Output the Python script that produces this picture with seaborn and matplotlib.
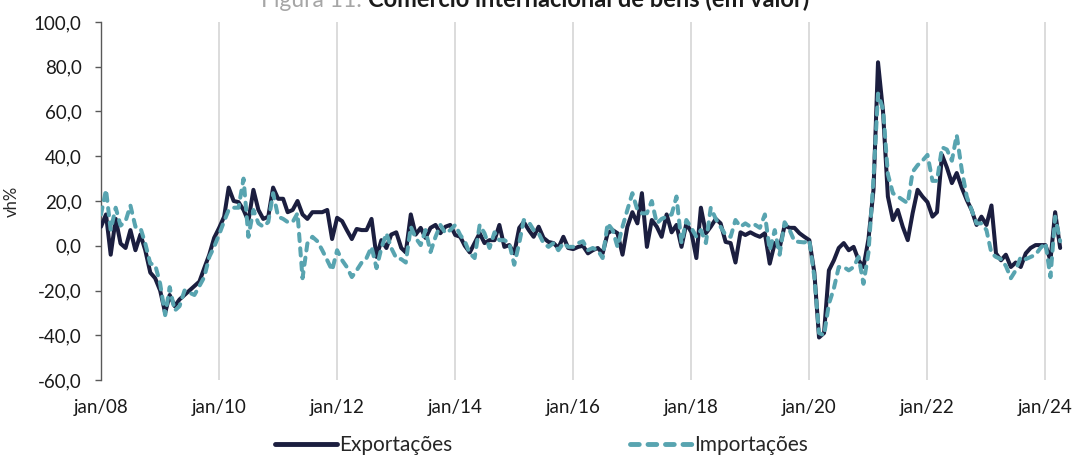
import numpy as np
import pandas as pd
import seaborn as sns
import matplotlib
matplotlib.use('Agg')
import matplotlib.pyplot as plt

# variação homóloga (%) mensal, jan/2008 - abr/2024
exportacoes = (
    [8.5, 14, -4, 12, 1, -1, 7, -2, 5, -2, -12, -14.5]          # 2008
    + [-20, -30, -22, -27, -24, -22, -20, -18, -16, -10, -4, 3.5]  # 2009
    + [8, 13, 26, 20, 19.5, 16, 11, 25, 16, 12, 13, 26]          # 2010
    + [21, 21, 15, 16, 20, 14, 12, 15, 15, 15, 16, 3]            # 2011
    + [12.5, 11, 7, 3, 7.5, 7, 7, 12, -5, 2.5, -1, 5]            # 2012
    + [6, -1, -3, 14, 5, 8, 3.5, 8, 9.3, 5.6, 8.5, 9.3]          # 2013
    + [4.8, 4, 0, -3, 1.2, 5.6, 1.2, 2.5, 2.5, 9.3, -0.5, 0.3]   # 2014
    + [-3.4, 8, 10.6, 7, 4, 8.5, 3.5, 1.7, 1.2, -1, 4, -1]       # 2015
    + [-1.5, -0.5, 0, -3.4, -2, -1, -3.4, 5.6, 7, 5.6, -4, 8.5]  # 2016
    + [15, 10, 23.5, -0.5, 11.5, 8.5, 4, 14, 6, 9.3, -0.5, 10]   # 2017
    + [6, -5.5, 17, 5.6, 8.5, 12, 10, 1.7, 1.2, -7.5, 6, 4.8]    # 2018
    + [6, 4.8, 4, 5.6, -8, 1.2, -1, 9, 8, 8, 5.6, 4]             # 2019
    + [2.5, -12, -41, -39, -11, -6.5, -1, 1.2, -2, -0.5, -6.5, -9.5]  # 2020
    + [3, 25, 82, 60, 22, 11.5, 16, 8.5, 2.5, 14.5, 25, 22]      # 2021
    + [19.5, 13, 15, 40.6, 35, 28, 32.5, 26, 20.5, 16, 9.3, 13]  # 2022
    + [9.3, 18, -3.4, -6.5, -4, -9.5, -7.5, -9.5, -3.4, -1, 0.3, 0.3]  # 2023
    + [0.3, -6.5, 15, -1]                                        # 2024
)
importacoes = (
    [14, 25, 7, 17, 9, 11, 18, 8.5, 8, 1, -8, -8.5]
    + [-17, -31, -18.5, -29, -27, -20, -21, -22, -18, -14, -5, -0.5]
    + [5, 11, 16, 17, 17, 30, 4, 16, 10, 8.5, 10.6, 23.5]
    + [13, 12, 10.6, 10.6, 14.5, -14.5, 1, 4, 2, -2, -6.5, -11]
    + [-2, -6.5, -9.5, -14, -11, -7.5, -5.5, -0.5, -10, -1, 5.6, -1]
    + [-5.5, -6, -7.5, 8.5, 3.5, 0.3, 7, -2.8, 4, 9.3, 5.6, 7]
    + [9.3, 4.8, 2, -3.4, -5.5, 9.3, 5.6, -1, 6, 2.5, 2.5, 1.2]
    + [-8.5, 1.2, 11.5, 10.6, 7, 5.6, 1.2, -0.5, 1.2, -2, 1.2, -0.5]
    + [-0.5, 1.2, 2, -2, -1, -2, -5.5, 10, 7, -0.5, 8.5, 16]
    + [23.5, 16, 14.5, 14.5, 20, 10, 12, 13, 14, 22, 1.2, 11.5]
    + [8, 4, 7, 1.2, 17, 12, 8.5, 4.8, 4, 11.5, 8.5, 10]
    + [8.5, 9.3, 8, 14, -2, 7, -4, 10.5, 7, 2, 1.7, 1.5]
    + [2.5, -14, -39, -40, -26, -19, -9.5, -9.5, -11, -9.5, -5, -17]
    + [-3, 30, 68, 61, 32, 23.5, 22, 20.5, 19, 33, 36, 38]
    + [40.6, 29, 29, 44, 43, 38, 49.5, 34, 22, 16, 10, 10]
    + [7, -3.4, -5, -6, -9, -14.5, -11, -5, -6, -5, -4, -1]
    + [1.2, -14, 13, 2]
)
tick_labels = ["jan/08", "jan/10", "jan/12", "jan/14", "jan/16",
               "jan/18", "jan/20", "jan/22", "jan/24"]

datas = pd.date_range("2008-01-01", periods=len(exportacoes), freq="MS")
df = pd.DataFrame({"data": datas, "Exportações": exportacoes,
                   "Importações": importacoes})

cor_exp = "#1b1e3f"
cor_imp = "#58a4b0"

sns.set_style("white")
plt.rcParams['font.family'] = ['Lato', 'DejaVu Sans']

fig = plt.figure(figsize=(10.78, 4.55), dpi=100)
ax = fig.add_axes([101 / 1078, 1 - 380 / 455, (1065 - 101) / 1078, 358 / 455])

ticks = pd.date_range("2008-01-01", "2024-01-01", freq="24MS")
for t in ticks[1:]:
    ax.axvline(t, color="#d9d9d9", lw=1.3, zorder=0)

sns.lineplot(data=df, x="data", y="Exportações", ax=ax, color=cor_exp,
             lw=2.9, label="Exportações", zorder=3)
sns.lineplot(data=df, x="data", y="Importações", ax=ax, color=cor_imp,
             lw=2.9, label="Importações", zorder=4)
ax.lines[-1].set_dashes([1.8, 1.8])
ax.lines[-1].set_dash_capstyle("round")

ax.set_ylim(-60, 100)
ax.set_yticks(np.arange(-60, 101, 20))
ax.set_yticklabels([f"{v:.1f}".replace(".", ",") for v in np.arange(-60, 101, 20)])
ax.set_xlim(pd.Timestamp("2008-01-01"), pd.Timestamp("2024-05-01"))
ax.set_xticks(ticks)
ax.set_xticklabels(tick_labels)
ax.set_xlabel("")
ax.set_ylabel("vh%", fontsize=12, labelpad=10)

for s in ["top", "right", "bottom"]:
    ax.spines[s].set_visible(False)
ax.spines["left"].set_color("#595959")
ax.spines["left"].set_linewidth(1.0)
ax.tick_params(axis="y", left=True, length=4, width=1, color="#595959",
               labelsize=13.5, pad=10, labelcolor="#1a1a1a")
ax.tick_params(axis="x", bottom=False, length=0, labelsize=13.5, pad=14,
               labelcolor="#1a1a1a")

leg = ax.legend(loc="center", bbox_to_anchor=(0.457, -0.182), ncol=2,
                frameon=False, fontsize=15, handlelength=3.0,
                columnspacing=8.5, handletextpad=0.1, borderpad=0)
for ln in leg.get_lines():
    ln.set_linewidth(3.5)
leg.get_lines()[1].set_dash_capstyle("round")

fig.text(368 / 1078, 1 - 7 / 455, "Figura 11: ", color="#a6a6a6",
         fontsize=16.5, ha="right", va="baseline")
fig.text(368 / 1078, 1 - 7 / 455, "Comércio internacional de bens (em valor)",
         color="#1a1a1a", fontsize=17, fontweight="bold",
         ha="left", va="baseline")

fig.savefig("out.png", dpi=100)
